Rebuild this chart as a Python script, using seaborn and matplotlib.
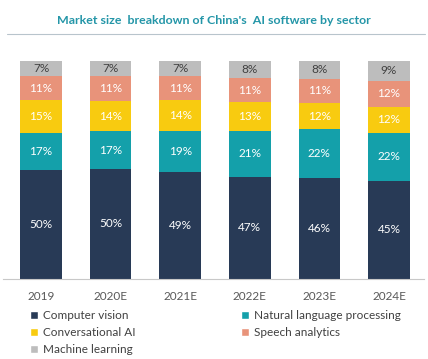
import numpy as np
import pandas as pd
import matplotlib.pyplot as plt
import seaborn as sns
from matplotlib.patches import Patch

years = ["2019", "2020E", "2021E", "2022E", "2023E", "2024E"]
computer_vision = [50, 50, 49, 47, 46, 45]
nlp = [17, 17, 19, 21, 22, 22]
conversational_ai = [15, 14, 14, 13, 12, 12]
speech_analytics = [11, 11, 11, 11, 11, 12]
machine_learning = [7, 7, 7, 8, 8, 9]

names = ["Computer vision", "Natural language processing", "Conversational AI",
         "Speech analytics", "Machine learning"]
colors = ["#283a56", "#14a0aa", "#f8cb10", "#e8937a", "#bdbdbd"]
label_colors = ["white", "white", "white", "white", "#404040"]

df = pd.DataFrame({"year": years, names[0]: computer_vision, names[1]: nlp,
                   names[2]: conversational_ai, names[3]: speech_analytics,
                   names[4]: machine_learning})
raw = df[names].to_numpy(dtype=float)
share = raw / raw.sum(axis=1, keepdims=True) * 100
cum = np.cumsum(share, axis=1)

sns.set_style("white")
plt.rcParams["font.family"] = ["Lato", "DejaVu Sans"]

fig = plt.figure(figsize=(4.28, 3.59), dpi=100)
ax = fig.add_axes([3 / 428, 1 - 279 / 359, 421 / 428, 218 / 359])

# draw tallest cumulative first so lower segments sit on top
for i in range(len(names) - 1, -1, -1):
    sns.barplot(x=df["year"], y=cum[:, i], color=colors[i], width=0.6,
                saturation=1, ax=ax, linewidth=0)

for i in range(len(names)):
    base = cum[:, i] - share[:, i]
    for j in range(len(years)):
        ax.text(j, base[j] + share[j, i] / 2, f"{int(raw[j, i])}%",
                ha="center", va="center", fontsize=8.5, color=label_colors[i])

ax.set_xlim(-0.546, 5.503)
ax.set_ylim(0, 100)
ax.set_yticks([])
ax.set_xlabel("")
ax.set_ylabel("")
for s in ["top", "right", "left"]:
    ax.spines[s].set_visible(False)
ax.spines["bottom"].set_color("#c8c8c8")
ax.tick_params(axis="x", length=0, labelsize=8.5, labelcolor="#595959", pad=9)

fig.text(0.5, 1 - 20 / 359, "Market size  breakdown of China's  AI software by sector",
         ha="center", va="center", fontsize=8.9, fontweight="bold", color="#2496a8")
fig.add_artist(plt.Line2D([7 / 428, 425 / 428], [1 - 34 / 359, 1 - 34 / 359],
                          color="#b8c4cc", linewidth=0.8))

order = [0, 2, 4, 1, 3]
handles = [Patch(facecolor=colors[k], label=names[k]) for k in order]
fig.legend(handles=handles, ncol=2, loc="upper left",
           bbox_to_anchor=(30 / 428, 1 - 310 / 359), frameon=False,
           fontsize=8.5, handlelength=0.7, handleheight=0.7, handletextpad=0.4,
           labelspacing=0.52, columnspacing=8.9, labelcolor="#404040",
           borderpad=0, borderaxespad=0)

fig.savefig("out.png", dpi=100)
